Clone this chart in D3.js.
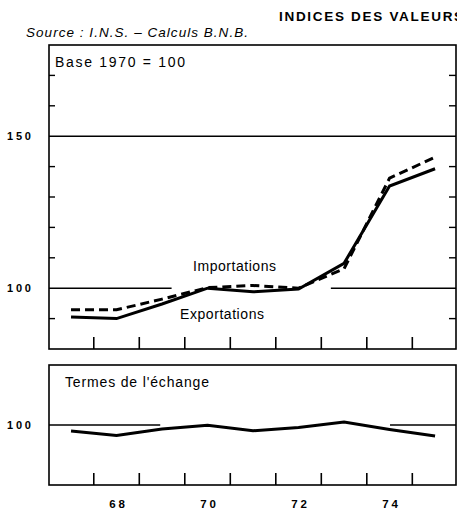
<!DOCTYPE html>
<meta charset="utf-8">
<body style="margin:0;background:#fff">
<svg width="457" height="510"></svg>
<script src="https://d3js.org/d3.v7.min.js"></script>
<script>

// data
const years = [67, 68, 69, 70, 71, 72, 73, 74, 75];
const exportations = [90.5, 90.0, 94.8, 100.0, 98.8, 99.7, 108.2, 133.6, 139.3];
const importations = [92.9, 92.9, 96.4, 100.2, 100.9, 100.0, 106.4, 136.2, 143.1];
const termes = [98.0, 96.5, 98.7, 99.9, 98.1, 99.2, 101.0, 98.5, 96.3];
const tickYears = [67.5, 68.5, 69.5, 70.5, 71.5, 72.5, 73.5, 74.5];
const yearLabels = [68, 70, 72, 74];
const topTicks = [90, 110, 120, 130, 140, 160, 170];
const topLabels = [100, 150];

const svg = d3.select("svg");
const font = "'Liberation Sans', Arial, sans-serif";

const left = 49, right = 456;
const x = d3.scaleLinear().domain([66.516, 75.46]).range([left, right]);
const yTop = d3.scaleLinear().domain([80, 180]).range([349, 45]);
const yBot = d3.scaleLinear().domain([80, 120]).range([485, 365]);

// titles
svg.append("text").attr("x", 279).attr("y", 21)
  .attr("font-family", font).attr("font-size", 13.5).attr("font-weight", "bold")
  .attr("letter-spacing", 1.7)
  .text("INDICES DES VALEURS");
svg.append("text").attr("x", 26).attr("y", 37)
  .attr("font-family", font).attr("font-size", 13.5).attr("font-style", "italic")
  .attr("textLength", 222).attr("lengthAdjust", "spacing")
  .text("Source : I.N.S. \u2013 Calculs B.N.B.");

function label(g, txt, x0, y0, w) {
  g.append("text").attr("x", x0).attr("y", y0)
    .attr("font-family", font).attr("font-size", 14)
    .attr("textLength", w).attr("lengthAdjust", "spacing")
    .text(txt);
}

function panel(top, bottom) {
  const g = svg.append("g");
  g.append("rect").attr("x", left).attr("y", top)
    .attr("width", right - left).attr("height", bottom - top)
    .attr("fill", "none").attr("stroke", "#000").attr("stroke-width", 1.6);
  g.selectAll(".xt").data(tickYears).enter().append("line")
    .attr("x1", d => x(d)).attr("x2", d => x(d))
    .attr("y1", bottom).attr("y2", bottom - 12)
    .attr("stroke", "#000").attr("stroke-width", 1.6);
  return g;
}

// top panel
const g1 = panel(45, 349);
g1.selectAll(".yl").data(topTicks).enter().append("line")
  .attr("x1", left).attr("x2", left + 6)
  .attr("y1", d => yTop(d)).attr("y2", d => yTop(d))
  .attr("stroke", "#000").attr("stroke-width", 1.4);
g1.selectAll(".yr").data(topTicks).enter().append("line")
  .attr("x1", right - 7).attr("x2", right)
  .attr("y1", d => yTop(d)).attr("y2", d => yTop(d))
  .attr("stroke", "#000").attr("stroke-width", 1.4);

// reference lines (broken where the curves cross)
const refTop = [[66.516, 75.46, 150], [66.516, 69.21, 100], [72.71, 75.46, 100]];
g1.selectAll(".ref").data(refTop).enter().append("line")
  .attr("x1", d => x(d[0])).attr("x2", d => x(d[1]))
  .attr("y1", d => yTop(d[2])).attr("y2", d => yTop(d[2]))
  .attr("stroke", "#000").attr("stroke-width", 1.5);

g1.selectAll(".lab").data(topLabels).enter().append("text")
  .attr("x", 7).attr("y", d => yTop(d) + 4)
  .attr("font-family", font).attr("font-size", 11).attr("font-weight", "bold")
  .attr("letter-spacing", 2.8).text(d => d);

const lineTop = d3.line().x((d, i) => x(years[i])).y(d => yTop(d));
g1.append("path").attr("d", lineTop(importations))
  .attr("fill", "none").attr("stroke", "#000").attr("stroke-width", 3)
  .attr("stroke-dasharray", "9,5");
g1.append("path").attr("d", lineTop(exportations))
  .attr("fill", "none").attr("stroke", "#000").attr("stroke-width", 3);

label(g1, "Base 1970 = 100", 55, 67, 130);
label(g1, "Importations", 193, 271, 83);
label(g1, "Exportations", 180, 319, 84);

// bottom panel
const g2 = panel(365, 485);
const refBot = [[66.516, 68.96, 100], [74.01, 75.46, 100]];
g2.selectAll(".ref").data(refBot).enter().append("line")
  .attr("x1", d => x(d[0])).attr("x2", d => x(d[1]))
  .attr("y1", d => yBot(d[2])).attr("y2", d => yBot(d[2]))
  .attr("stroke", "#000").attr("stroke-width", 1.5);
g2.append("text").attr("x", 7).attr("y", yBot(100) + 4)
  .attr("font-family", font).attr("font-size", 11).attr("font-weight", "bold")
  .attr("letter-spacing", 2.8).text("100");
const lineBot = d3.line().x((d, i) => x(years[i])).y(d => yBot(d));
g2.append("path").attr("d", lineBot(termes))
  .attr("fill", "none").attr("stroke", "#000").attr("stroke-width", 3);
label(g2, "Termes de l'\u00e9change", 65, 387, 144);

svg.selectAll(".xl").data(yearLabels).enter().append("text")
  .attr("x", d => x(d) + 2).attr("y", 508).attr("text-anchor", "middle")
  .attr("font-family", font).attr("font-size", 11.5).attr("font-weight", "bold")
  .attr("letter-spacing", 2.8).text(d => d);
</script>
</body>
